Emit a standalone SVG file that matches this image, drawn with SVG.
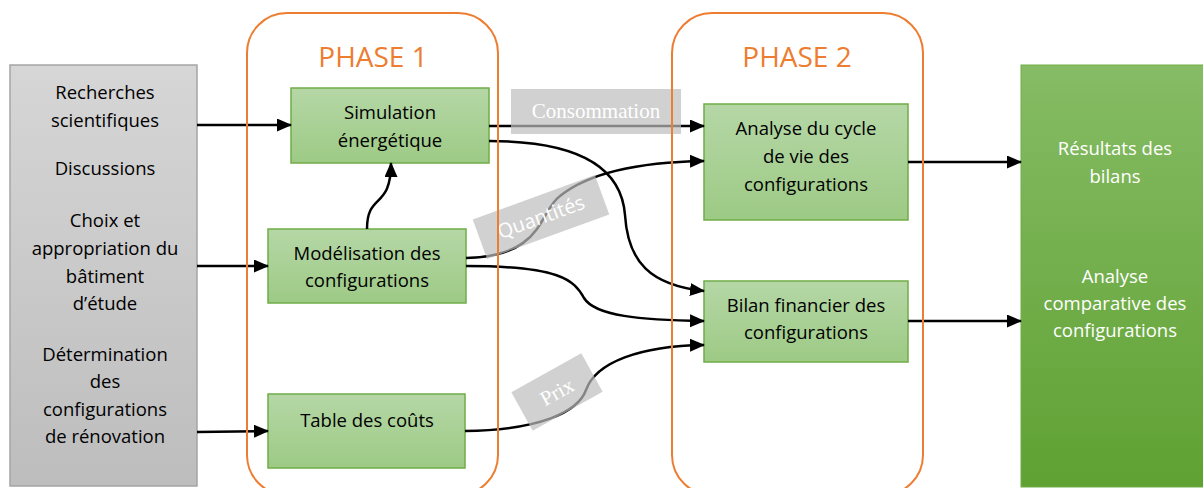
<svg xmlns="http://www.w3.org/2000/svg" width="1203" height="488" viewBox="0 0 1203 488">
<defs>
<linearGradient id="gNode" x1="0" y1="0" x2="0" y2="1"><stop offset="0" stop-color="#B5D7A6"/><stop offset="1" stop-color="#9DCA85"/></linearGradient>
<linearGradient id="gGrey" x1="0" y1="0" x2="0" y2="1"><stop offset="0" stop-color="#D6D6D6"/><stop offset="1" stop-color="#BDBDBD"/></linearGradient>
<linearGradient id="gRes" x1="0" y1="0" x2="0" y2="1"><stop offset="0" stop-color="#86BC65"/><stop offset="1" stop-color="#5FA132"/></linearGradient>
<marker id="arr" markerUnits="userSpaceOnUse" markerWidth="15" markerHeight="14" refX="14" refY="6.5" orient="auto"><path d="M0,0 L15,6.5 L0,13 z" fill="#000"/></marker>
<style>
.node{fill:url(#gNode);stroke:#70AD47;stroke-width:1.5}
.t{font-family:"Open Sans","DejaVu Sans",sans-serif;font-size:18.5px;fill:#000;text-anchor:middle}
.tw{font-family:"Open Sans","DejaVu Sans",sans-serif;font-size:18.5px;fill:#fff;text-anchor:middle}
.ph{fill:none;stroke:#ED7D31;stroke-width:2}
.pt{font-family:"Open Sans","DejaVu Sans",sans-serif;font-size:28px;fill:#ED7D31;text-anchor:middle}
.c{fill:none;stroke:#000;stroke-width:2.5;marker-end:url(#arr)}
.lb{fill:#BDBDBD;fill-opacity:0.7}
.ls{font-family:"Liberation Serif","Times New Roman",serif;font-size:21px;fill:#fff;text-anchor:middle}
.lq{font-family:"Open Sans","DejaVu Sans",sans-serif;font-size:20px;fill:#fff;text-anchor:middle}
</style>
</defs>
<rect width="1203" height="488" fill="#fff"/>

<g id="inputs">
<rect x="10" y="65" width="187" height="421" fill="url(#gGrey)" stroke="#A5A5A5" stroke-width="1.5"/>
<text class="t" x="105" y="99">Recherches</text>
<text class="t" x="105" y="127">scientifiques</text>
<text class="t" x="105" y="175">Discussions</text>
<text class="t" x="105" y="227">Choix et</text>
<text class="t" x="105" y="255">appropriation du</text>
<text class="t" x="105" y="283">bâtiment</text>
<text class="t" x="105" y="310">d’étude</text>
<text class="t" x="105" y="361">Détermination</text>
<text class="t" x="105" y="388">des</text>
<text class="t" x="105" y="416">configurations</text>
<text class="t" x="105" y="443">de rénovation</text>
</g>

<g id="simulation">
<rect class="node" x="291" y="88" width="198" height="75"/>
<text class="t" x="390" y="119">Simulation</text>
<text class="t" x="390" y="147">énergétique</text>
</g>

<g id="modelisation">
<rect class="node" x="268" y="229" width="198" height="74"/>
<text class="t" x="367" y="260">Modélisation des</text>
<text class="t" x="367" y="287">configurations</text>
</g>

<g id="table">
<rect class="node" x="268" y="394" width="197" height="74"/>
<text class="t" x="367" y="427">Table des coûts</text>
</g>

<g id="acv">
<rect class="node" x="704" y="104" width="204" height="116"/>
<text class="t" x="806" y="135">Analyse du cycle</text>
<text class="t" x="806" y="163">de vie des</text>
<text class="t" x="806" y="191">configurations</text>
</g>

<g id="bilan">
<rect class="node" x="704" y="281" width="204" height="81"/>
<text class="t" x="806" y="312">Bilan financier des</text>
<text class="t" x="806" y="339">configurations</text>
</g>

<g id="resultats">
<rect x="1021" y="65" width="190" height="422" fill="url(#gRes)" stroke="#70AD47" stroke-width="1"/>
<text class="tw" x="1115" y="155">Résultats des</text>
<text class="tw" x="1115" y="183">bilans</text>
<text class="tw" x="1115" y="283">Analyse</text>
<text class="tw" x="1115" y="310">comparative des</text>
<text class="tw" x="1115" y="337">configurations</text>
</g>

<g id="connectors">
<path class="c" d="M197,125 L291,125"/>
<path class="c" d="M197,266 L268,266"/>
<path class="c" d="M197,432 L268,431"/>
<path class="c" d="M489,126 L704,126"/>
<path class="c" d="M489,141 C590,141 622,175 625,215 C628,262 650,285 704,291"/>
<path class="c" d="M466,258 C545,256 538,212 560,196 C590,172 640,162 704,161"/>
<path class="c" d="M466,266 C560,266 574,280 584,298 C595,316 640,320 704,321"/>
<path class="c" d="M465,431 C540,430 578,412 586,390 C596,362 640,346 704,345"/>
<path class="c" d="M367,229 C367,192 391,210 391,163"/>
<path class="c" d="M908,162 L1021,162"/>
<path class="c" d="M908,321 L1021,321"/>
</g>

<g id="labels">
<rect class="lb" x="511" y="89" width="170" height="45"/>
<text class="ls" x="596" y="118">Consommation</text>
<g transform="translate(541,217) rotate(-20)">
<rect class="lb" x="-65" y="-21" width="130" height="42"/>
<text class="lq" x="0" y="7">Quantités</text>
</g>
<g transform="translate(557,392) rotate(-29)">
<rect class="lb" x="-40" y="-22" width="80" height="44"/>
<text class="ls" x="0" y="7">Prix</text>
</g>
</g>

<g id="phase1">
<rect class="ph" x="247" y="13" width="251" height="482" rx="40" ry="40"/>
<text class="pt" x="373" y="67">PHASE 1</text>
</g>
<g id="phase2">
<rect class="ph" x="672" y="13" width="251" height="482" rx="40" ry="40"/>
<text class="pt" x="797" y="67">PHASE 2</text>
</g>
</svg>
